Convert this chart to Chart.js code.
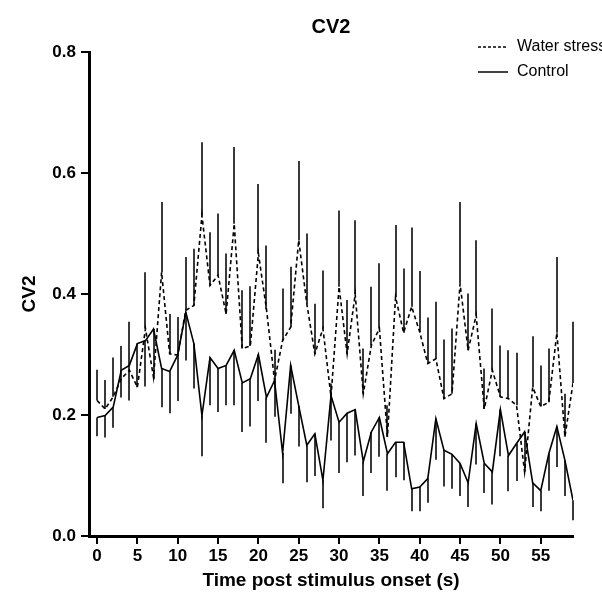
<!DOCTYPE html>
<html><head><meta charset="utf-8">
<script src="https://cdn.jsdelivr.net/npm/chart.js@4.4.0/dist/chart.umd.min.js"></script>
<style>html,body{margin:0;padding:0;background:#fff}#wrap{width:602px;height:592px}</style>
</head><body><div id="wrap"><canvas id="c" width="602" height="592"></canvas></div>
<script>
const timeSec = [0,1,2,3,4,5,6,7,8,9,10,11,12,13,14,15,16,17,18,19,20,21,22,23,24,25,26,27,28,29,30,31,32,33,34,35,36,37,38,39,40,41,42,43,44,45,46,47,48,49,50,51,52,53,54,55,56,57,58,59];
const waterStress = [0.224,0.21,0.23,0.26,0.274,0.246,0.343,0.262,0.436,0.301,0.299,0.373,0.381,0.530,0.414,0.431,0.367,0.516,0.31,0.314,0.467,0.375,0.257,0.323,0.345,0.489,0.384,0.301,0.343,0.23,0.412,0.301,0.40,0.235,0.315,0.343,0.164,0.395,0.336,0.379,0.337,0.285,0.293,0.227,0.235,0.417,0.307,0.365,0.21,0.274,0.23,0.227,0.216,0.106,0.246,0.214,0.221,0.336,0.164,0.253];
const waterStressUpper = [0.275,0.258,0.295,0.314,0.354,0.265,0.436,0.28,0.552,0.367,0.362,0.461,0.475,0.651,0.502,0.533,0.467,0.643,0.406,0.413,0.582,0.480,0.308,0.409,0.445,0.62,0.50,0.384,0.439,0.252,0.538,0.39,0.522,0.31,0.412,0.451,0.216,0.514,0.442,0.51,0.438,0.361,0.387,0.325,0.343,0.552,0.401,0.489,0.277,0.376,0.315,0.307,0.303,0.17,0.33,0.282,0.31,0.461,0.235,0.354];
const control = [0.196,0.199,0.213,0.274,0.282,0.318,0.323,0.342,0.277,0.272,0.299,0.370,0.318,0.199,0.295,0.277,0.282,0.307,0.253,0.260,0.300,0.229,0.257,0.137,0.282,0.215,0.150,0.169,0.092,0.232,0.188,0.203,0.209,0.123,0.172,0.196,0.136,0.155,0.155,0.078,0.081,0.095,0.194,0.142,0.135,0.12,0.088,0.186,0.12,0.106,0.209,0.133,0.153,0.172,0.088,0.075,0.136,0.181,0.125,0.059];
const controlLower = [0.165,0.163,0.179,0.229,0.224,0.26,0.247,0.26,0.213,0.203,0.223,0.29,0.244,0.132,0.216,0.205,0.216,0.216,0.172,0.181,0.223,0.154,0.197,0.087,0.202,0.148,0.089,0.099,0.046,0.158,0.104,0.122,0.133,0.066,0.104,0.131,0.075,0.097,0.092,0.041,0.041,0.055,0.126,0.082,0.078,0.066,0.048,0.118,0.071,0.052,0.132,0.074,0.091,0.11,0.048,0.041,0.075,0.114,0.066,0.026];
const xTickValues = [0,5,10,15,20,25,30,35,40,45,50,55];
const yTickValues = [0,0.2,0.4,0.6,0.8];
const seriesNames = ['Water stress','Control'];

const FONT = "'Liberation Sans', Arial, sans-serif";

const errorBars = {
  id: 'errorBars',
  beforeDatasetsDraw(chart) {
    const {ctx, scales:{x, y}} = chart;
    ctx.save();
    ctx.strokeStyle = '#3a3a3a';
    ctx.lineWidth = 2;
    ctx.beginPath();
    timeSec.forEach((t, i) => {
      const px = Math.round(x.getPixelForValue(t));
      ctx.moveTo(px, y.getPixelForValue(waterStress[i]));
      ctx.lineTo(px, y.getPixelForValue(waterStressUpper[i]));
      ctx.moveTo(px, y.getPixelForValue(control[i]));
      ctx.lineTo(px, y.getPixelForValue(controlLower[i]));
    });
    ctx.stroke();
    ctx.restore();
  }
};

const customLegend = {
  id: 'customLegend',
  afterDraw(chart) {
    const {ctx} = chart;
    ctx.save();
    ctx.strokeStyle = '#000';
    ctx.lineWidth = 1.5;
    ctx.setLineDash([3,2]);
    ctx.beginPath(); ctx.moveTo(478, 47); ctx.lineTo(508, 47); ctx.stroke();
    ctx.setLineDash([]);
    ctx.beginPath(); ctx.moveTo(478, 72); ctx.lineTo(508, 72); ctx.stroke();
    ctx.fillStyle = '#000';
    ctx.font = "16px " + FONT;
    ctx.textBaseline = 'middle';
    ctx.fillText(seriesNames[0], 517, 47);
    ctx.fillText(seriesNames[1], 517, 72);
    ctx.restore();
  }
};

new Chart(document.getElementById('c'), {
  type: 'line',
  data: {
    datasets: [
      { label: seriesNames[0], data: timeSec.map((t,i)=>({x:t, y:waterStress[i]})),
        borderColor:'#000', borderWidth:1.6, borderDash:[4,3], pointRadius:0, tension:0, fill:false },
      { label: seriesNames[1], data: timeSec.map((t,i)=>({x:t, y:control[i]})),
        borderColor:'#000', borderWidth:1.6, pointRadius:0, tension:0, fill:false }
    ]
  },
  options: {
    responsive:false, animation:false, devicePixelRatio:1,
    layout:{ padding:{ left:0, right:29, top:0, bottom:0 } },
    plugins:{
      legend:{ display:false },
      tooltip:{ enabled:false },
      title:{ display:true, text:'CV2', fullSize:false, color:'#000',
        font:{ family:FONT, size:20, weight:'bold' }, padding:{ top:15, bottom:13 } }
    },
    scales:{
      x:{ type:'linear', min:-1, max:59,
        afterBuildTicks(axis){ axis.ticks = xTickValues.map(v=>({value:v})); },
        afterFit(scale){ scale.height = 56; },
        ticks:{ color:'#000', font:{ family:FONT, size:17, weight:'bold' }, padding:2, maxRotation:0, autoSkip:false },
        grid:{ drawOnChartArea:false, drawTicks:true, tickLength:8, color:'#000', lineWidth:2 },
        border:{ display:true, color:'#000', width:3 },
        title:{ display:true, text:'Time post stimulus onset (s)', color:'#000',
          font:{ family:FONT, size:19, weight:'bold' }, padding:{ top:0, bottom:0 } }
      },
      y:{ min:0, max:0.8,
        afterBuildTicks(axis){ axis.ticks = yTickValues.map(v=>({value:v})); },
        afterFit(scale){ scale.width = 89; },
        ticks:{ color:'#000', font:{ family:FONT, size:17, weight:'bold' }, padding:5,
          callback:(v)=>Number(v).toFixed(1) },
        grid:{ drawOnChartArea:false, drawTicks:true, tickLength:8, color:'#000', lineWidth:2 },
        border:{ display:true, color:'#000', width:3 },
        title:{ display:true, text:'CV2', color:'#000',
          font:{ family:FONT, size:19, weight:'bold' }, padding:{ top:18, bottom:0 } }
      }
    }
  },
  plugins:[errorBars, customLegend]
});
</script>
</body></html>
